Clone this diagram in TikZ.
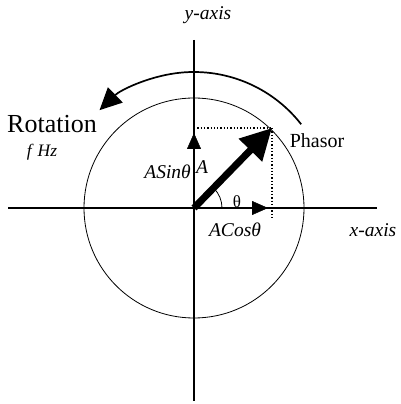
\documentclass[tikz,border=0pt]{standalone}
\usepackage{fontspec}
\setmainfont{Liberation Serif}
\usetikzlibrary{positioning,arrows.meta}

\begin{document}
\begin{tikzpicture}[
  x=1pt, y=1pt,
  axis/.style={line width=1.7pt},
  proj/.style={dotted, line width=1.3pt},
  lbl/.style={font=\fontsize{19.5}{21}\selectfont\itshape, inner sep=0pt},
  small/.style={-{Triangle[length=16pt,width=14pt]}},
  phasor/.style={line width=7pt, -{Triangle[length=31pt,width=31pt]}},
  rot/.style={line width=1.7pt, -{Triangle[length=22pt,width=21pt]}}
]
\useasboundingbox (0,0) rectangle (400,404);
\coordinate (O) at (194,196);
\coordinate (xl) at (8,196);
\coordinate (xr) at (377,196);
\coordinate (yt) at (194,364);
\coordinate (yb) at (194,3);
\coordinate (tip) at (272,276);
\coordinate (ty) at (194,276);
\coordinate (tx) at (272,185);

% axes and circle
\draw[axis] (xl) -- (xr);
\draw[axis] (yt) -- (yb);
\draw[line width=0.8pt] (O) circle[radius=110];

% projections
\draw[proj] (ty) -- (tip);
\draw[proj] (tip) -- (tx);
\draw[small] (194,152) -- (194,271);
\draw[small] (247,196) -- (268,196);
\draw[line width=0.8pt] ([shift={(0:28)}]O) arc[start angle=0,end angle=45,radius=28];

% phasor and rotation
\draw[phasor] (O) -- (tip);
\draw[rot] ([shift={(38:136)}]O) arc[start angle=38,end angle=134,radius=136];

% labels
\node[lbl] (ylab) at (208,389) {y-axis};
\node[lbl] (xlab) at (373,174) {x-axis};
\node[font=\fontsize{26}{28}\selectfont, inner sep=0pt] (rotlab) at (52,280) {Rotation};
\node[font=\fontsize{17.5}{19}\selectfont\itshape, inner sep=0pt] (freq) at (42,252) {f\,\,Hz};
\node[font=\fontsize{20}{22}\selectfont, inner sep=0pt] (phlab) at (317,263) {Phasor};
\node[lbl, anchor=east] (sinlab) at (191,232) {ASinθ};
\node[lbl] (alab) at (202,237) {A};
\node[font=\fontsize{17}{19}\selectfont, inner sep=0pt] (thlab) at (237,202) {θ};
\node[lbl] (coslab) at (235,174) {ACosθ};
\end{tikzpicture}
\end{document}
